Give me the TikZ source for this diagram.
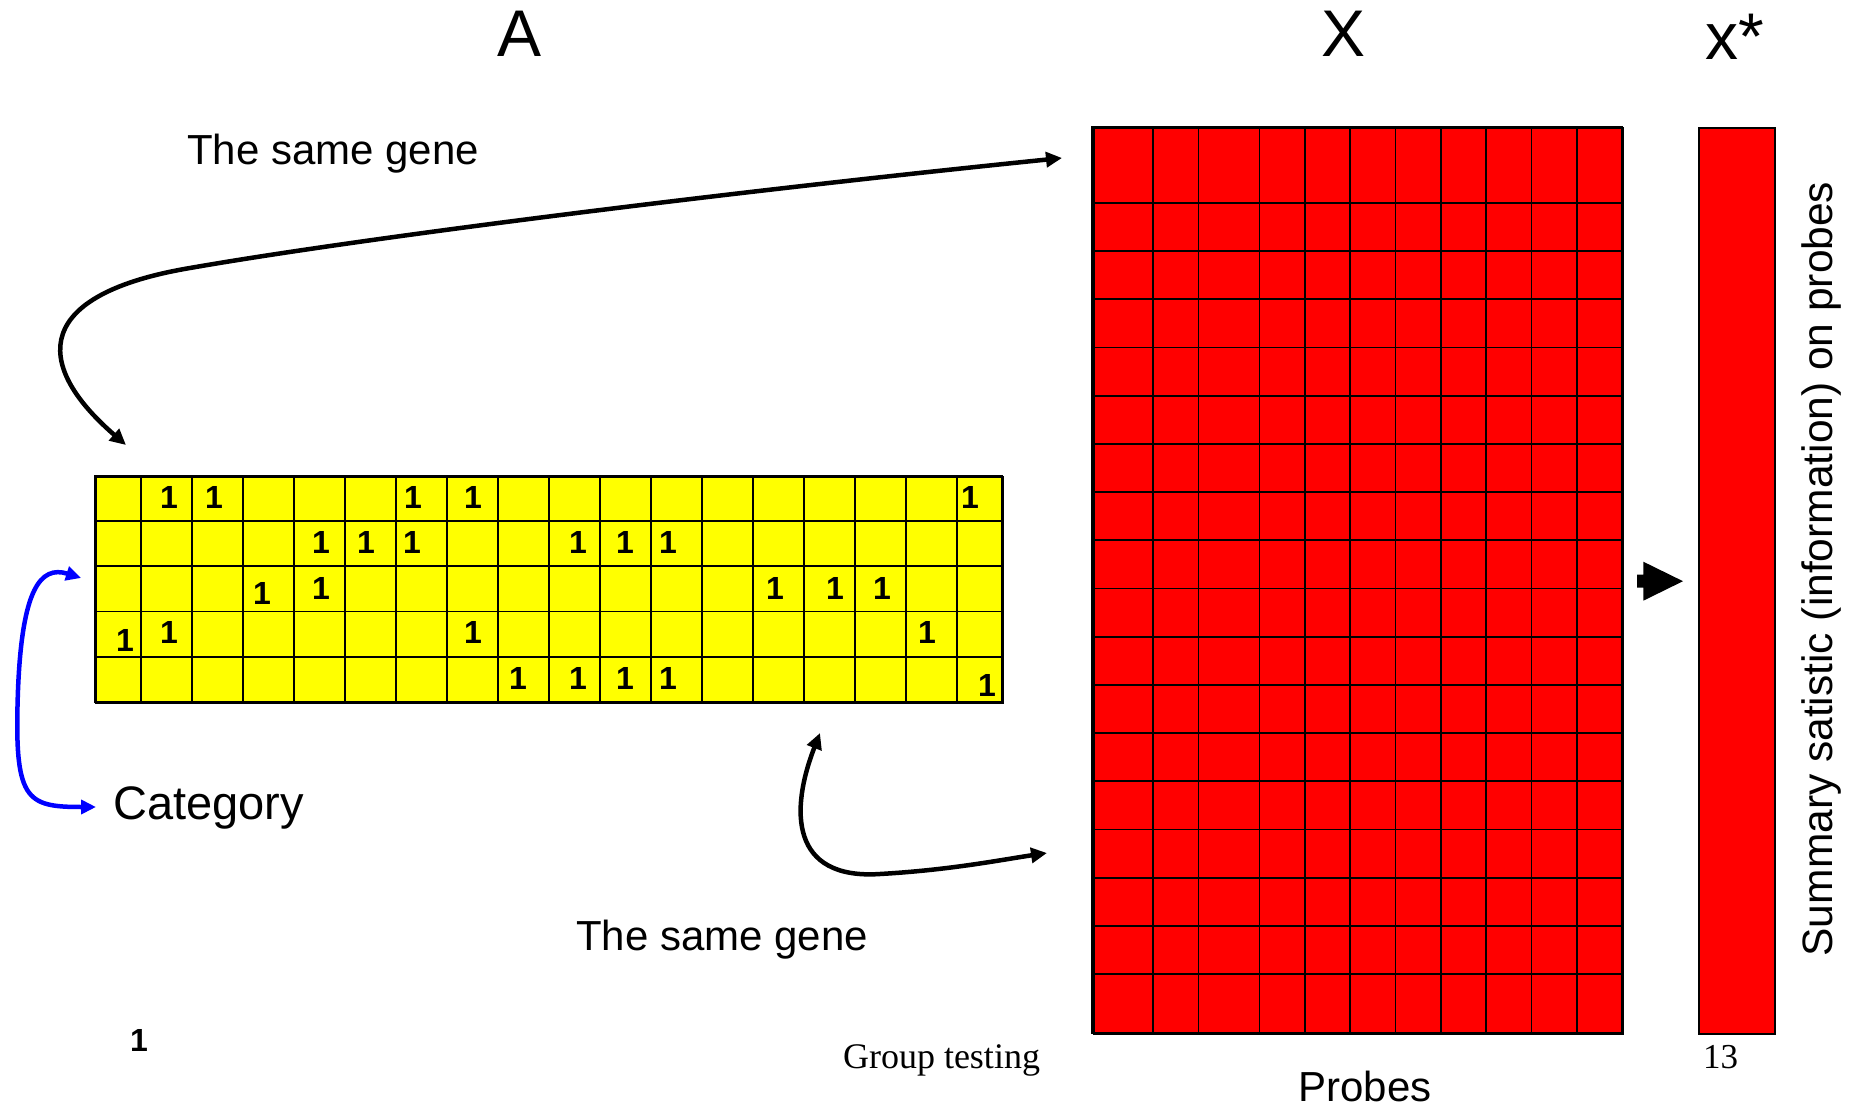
\documentclass[tikz,border=0pt]{standalone}
\usepackage{fontspec}
\setmainfont{Liberation Sans}
\newfontfamily\seriffont{Liberation Serif}
\usetikzlibrary{arrows.meta}
\definecolor{pureyellow}{RGB}{255,255,0}
\definecolor{purered}{RGB}{255,0,0}
\definecolor{pureblue}{RGB}{0,0,255}
\tikzset{
  gline/.style={draw=black, line width=1.8pt},
  one/.style={inner sep=0pt, font=\bfseries\fontsize{32}{34}\selectfont},
  lbl/.style={inner sep=0pt, anchor=base},
  conn/.style={line width=4.5pt, line cap=round},
  hd/.style={{Triangle[length=16pt,width=15pt]}-{Triangle[length=16pt,width=15pt]}},
}
\begin{document}
\begin{tikzpicture}[x=1pt,y=-1pt]
\useasboundingbox[fill=white] (0,0) rectangle (1860,1107);

% ---------- yellow matrix A ----------
\node[draw=black, line width=2pt, fill=pureyellow, minimum width=907pt, minimum height=226pt,
      inner sep=0pt, anchor=north west] (Agrid) at (95,476) {};
\foreach \x in {141,192,243,294,345,396,447,498,549,600,651,702,753,804,855,906,957}
  \draw[gline] (\x,476) -- (\x,702);
\foreach \y in {521,566,611.5,656.7}
  \draw[gline] (95,\y) -- (1002,\y);
\draw[line width=2.2pt] (95,476) rectangle (1002,702);

% ones
\foreach \x/\y [count=\i] in {169/497,214/497,413/497,473/497,970/497,
    321/542,366/542,412/542,578/542,625/542,668/542,
    262/593,321/588,775/588,835/588,882/588,
    125/640,169/632,473/632,927/632,
    518/678,578/678,625/678,668/678,987/685}
  \node[one] (one\i) at (\x,\y) {1};

% ---------- red matrix X ----------
\node[draw=black, line width=2pt, fill=purered, minimum width=529.5pt, minimum height=906pt,
      inner sep=0pt, anchor=north west] (Xgrid) at (1092.5,127) {};
\foreach \x in {1153,1198.5,1259.5,1305,1350,1395.5,1441,1486,1531.5,1577}
  \draw[gline] (\x,127) -- (\x,1033);
\foreach \k in {0,...,16}
  \draw[gline] (1092.5,{203+48.1875*\k}) -- (1622,{203+48.1875*\k});
\draw[line width=2.2pt] (1092.5,127) rectangle (1622,1033);

% ---------- x* bar ----------
\node[draw=black, line width=2.2pt, fill=purered, minimum width=76pt, minimum height=906pt,
      inner sep=0pt, anchor=north west] (xbar) at (1697.5,127) {};

% block arrow
\fill[black] (1637,574.5) -- (1643.3,574.5) -- (1643.3,561.7) -- (1683,581.2)
  -- (1643.3,600.7) -- (1643.3,587.7) -- (1637,587.7) -- cycle;

% ---------- labels ----------
\node[lbl, font=\fontsize{66}{70}\selectfont] (labA) at (520,57) {A};
\node[lbl, font=\fontsize{66}{70}\selectfont] (labX) at (1343,57) {X};
\node[lbl, font=\fontsize{66}{70}\selectfont] (labx) at (1735,60) {x*};
\node[lbl, font=\fontsize{42}{46}\selectfont] (gene1) at (333,165) {The same gene};
\node[lbl, font=\fontsize{42}{46}\selectfont] (gene2) at (722,950) {The same gene};
\node[inner sep=0pt, anchor=base west, font=\fontsize{47}{50}\selectfont] (cat) at (113,819) {Category};
\node[lbl, font=\fontsize{42}{46}\selectfont] (probes) at (1365,1101.5) {Probes};
\node[lbl, font=\seriffont\fontsize{35}{38}\selectfont] (num) at (1720.5,1068) {13};
\node[lbl, font=\seriffont\fontsize{36}{40}\selectfont] (grp) at (941.5,1068) {Group testing};
\node[one] (onebl) at (139,1040.5) {1};
\node[lbl, rotate=90, font=\fontsize{42.5}{46}\selectfont] (summ) at (1832,569)
  {Summary satistic (information) on probes};

% ---------- connectors ----------
\coordinate (t1) at (1062,158);
\coordinate (t2) at (126,445);
\draw[conn, hd]
  (t2) .. controls (30,362) and (36,294) .. (190,268)
       .. controls (350,240) and (700,195) .. (t1);

\coordinate (b1) at (820,733);
\coordinate (b2) at (1047,853);
\draw[conn, hd]
  (b1) .. controls (790,810) and (790,880) .. (880,874)
       .. controls (950,870) and (1000,860) .. (b2);

\coordinate (c1) at (81,578);
\coordinate (c2) at (96,807);
\draw[conn, pureblue, {Triangle[length=15pt,width=14pt]}-{Triangle[length=15pt,width=14pt]}]
  (c1) .. controls (40,565) and (22,590) .. (18,690)
       .. controls (14,800) and (25,807) .. (c2);
\end{tikzpicture}
\end{document}
